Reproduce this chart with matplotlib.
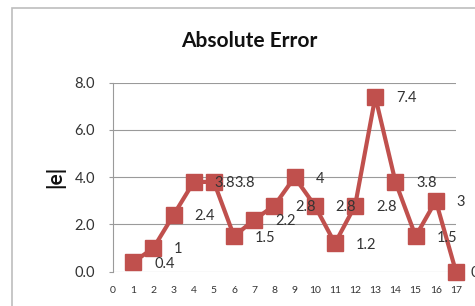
import matplotlib
matplotlib.use("Agg")
import matplotlib.pyplot as plt
from matplotlib.patches import Rectangle

# данные с графика
x_vals = list(range(1, 18))
abs_err = [0.4, 1, 2.4, 3.8, 3.8, 1.5, 2.2, 2.8, 4, 2.8, 1.2, 2.8, 7.4, 3.8, 1.5, 3, 0]
x_ticks = list(range(0, 18))
y_ticks = [0, 2, 4, 6, 8]

plt.rcParams['font.family'] = ['Lato', 'DejaVu Sans']
red = '#C0504D'
grid_c = '#9A9A9A'
txt_c = '#333333'

fig = plt.figure(figsize=(4.75, 3.06), dpi=100)
ax = fig.add_axes([113 / 475, 1 - 271.7 / 306, 343 / 475, 189 / 306])

# рамка области диаграммы
fig.patches.append(Rectangle((12 / 475, -0.2), 1.2, 1.2 - 8 / 306,
                             transform=fig.transFigure, fill=False,
                             edgecolor='#BDBDBD', linewidth=1.2))

ax.plot(x_vals, abs_err, color=red, linewidth=3, marker='s', markersize=11.5,
        markerfacecolor=red, markeredgecolor=red, clip_on=False, zorder=3)

for i, (xv, yv) in enumerate(zip(x_vals, abs_err)):
    dx = 10.5 if i == len(x_vals) - 1 else 15
    ax.annotate(f'{yv:g}', (xv, yv), xytext=(dx, -1), textcoords='offset points',
                ha='left', va='center', fontsize=10.5, color=txt_c,
                annotation_clip=False, zorder=4)

ax.set_xlim(0, 17)
ax.set_ylim(0, 8)
ax.set_xticks(x_ticks)
ax.set_yticks(y_ticks)
ax.set_yticklabels([f'{v:.1f}' for v in y_ticks])
ax.tick_params(axis='x', length=0, pad=10, labelsize=7.5, colors=txt_c)
ax.tick_params(axis='y', length=3, width=0.8, color=grid_c, pad=10,
               labelsize=10.5, labelcolor=txt_c)

ax.grid(axis='y', color=grid_c, linewidth=0.8)
ax.set_axisbelow(True)
for s in ['top', 'right', 'bottom']:
    ax.spines[s].set_visible(False)
ax.spines['left'].set_color(grid_c)
ax.spines['left'].set_linewidth(0.8)

fig.text(55 / 475, 1 - 177 / 306, '|e|', rotation=90, ha='center', va='center',
         fontsize=15, fontweight='bold', color='#111111')
fig.text(249 / 475, 1 - 41 / 306, 'Absolute Error', ha='center', va='center',
         fontsize=15, fontweight='bold', color='#111111')

fig.savefig('out.png', dpi=100)
